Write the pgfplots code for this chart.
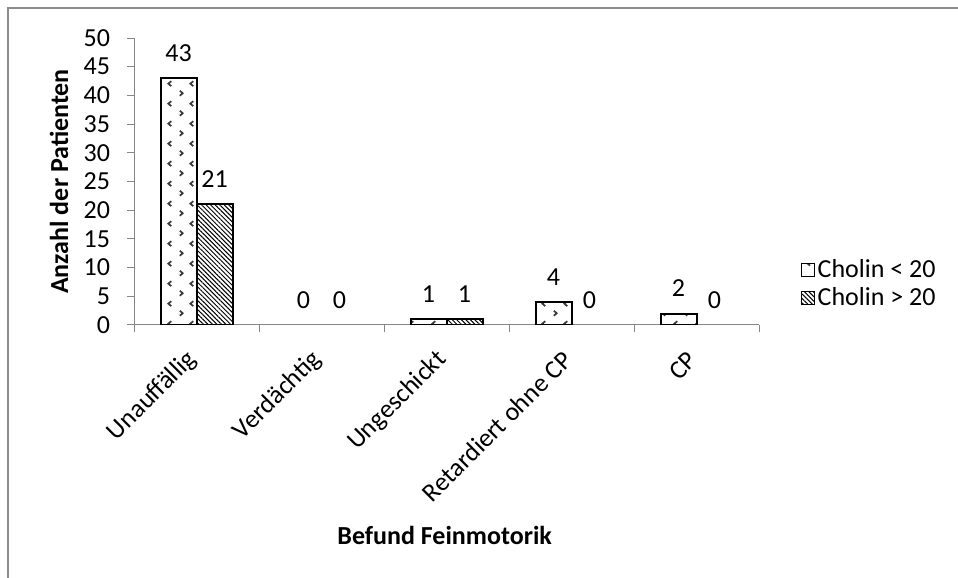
\documentclass[border=0pt]{standalone}
\usepackage{fontspec}
\setmainfont{Carlito}
\usepackage{pgfplots}
\pgfplotsset{compat=1.18}
\usetikzlibrary{patterns.meta}
\definecolor{axgray}{HTML}{868686}
\definecolor{framegray}{HTML}{8C8C8C}
\definecolor{dotgray}{HTML}{3A3A3A}
\pgfdeclarepattern{
  name=chevrons,
  type=uncolored,
  bottom left={\pgfpoint{0pt}{0pt}},
  top right={\pgfpoint{11pt}{10pt}},
  tile size={\pgfpoint{11pt}{10pt}},
  code={
    \pgfsetlinewidth{0.9pt}
    \pgfpathmoveto{\pgfpoint{2.0pt}{3.8pt}}
    \pgfpathlineto{\pgfpoint{3.5pt}{2.5pt}}
    \pgfpathlineto{\pgfpoint{2.0pt}{1.2pt}}
    \pgfpathmoveto{\pgfpoint{9.0pt}{8.8pt}}
    \pgfpathlineto{\pgfpoint{7.5pt}{7.5pt}}
    \pgfpathlineto{\pgfpoint{9.0pt}{6.2pt}}
    \pgfusepath{stroke}
  }
}
\pgfplotsset{
  mylegend/.style={legend image code/.code={\draw[##1, line width=0.5pt] (0pt,-3.25pt) rectangle (6.5pt,3.25pt);}}
}
\begin{document}
\begin{tikzpicture}[font=\fontsize{13}{15.6}\selectfont]
\useasboundingbox (0,0) rectangle (479pt,289pt);
\draw[framegray, line width=0.6pt] (4pt,0) -- (4pt,285pt) -- (479pt,285pt);
\begin{axis}[
  at={(67pt,126.5pt)}, anchor=south west,
  scale only axis, width=312.5pt, height=143.5pt,
  xmin=-0.5, xmax=4.5, ymin=0, ymax=50,
  ybar,
  ytick={0,5,...,50},
  axis x line*=bottom, axis y line*=left,
  axis line style={axgray, line width=0.5pt},
  tick style={axgray, line width=0.5pt},
  tick align=outside, major tick length=3.5pt,
  xtick={-0.5,0.5,1.5,2.5,3.5,4.5}, xticklabels={,,,,,},
  extra x ticks={0,1,2,3,4},
  extra x tick labels={Unauffällig,Verdächtig,Ungeschickt,Retardiert ohne CP,CP},
  extra x tick style={major tick length=0pt, xticklabel style={xshift=0.5pt, yshift=-13pt, rotate=45, anchor=east}},
  yticklabel style={xshift=-5pt},
  /pgf/number format/assume math mode=true,
  ticklabel style={font=\fontsize{13}{15.6}\selectfont, text=black},
  ylabel={\bfseries Anzahl der Patienten},
  ylabel style={at={(axis description cs:-0.12,0.5)}, anchor=center, font=\fontsize{13}{15.6}\selectfont},
  xlabel={\bfseries Befund Feinmotorik},
  xlabel style={at={(axis description cs:0.497,-0.732)}, anchor=center, font=\fontsize{13}{15.6}\selectfont},
  every node near coord/.append style={anchor=center, yshift=12.5pt, font=\fontsize{13}{15.6}\selectfont, text=black},
  legend style={at={(axis description cs:1.066,0.143)}, anchor=west, draw=none, fill=none,
    inner sep=0pt, row sep=0.7pt, nodes={inner sep=1.5pt, anchor=west},
    font=\fontsize{13}{15.6}\selectfont},
  legend cell align=left,
]
% visible bars (non-zero values only)
\addplot[draw=black, line width=1pt, bar width=18pt, bar shift=-9pt,
  pattern=chevrons, pattern color=dotgray, mylegend]
  coordinates {(0,43) (2,1) (3,4) (4,2)};
\addlegendentry{Cholin < 20}
\addplot[draw=black, line width=1pt, bar width=18pt, bar shift=9pt,
  pattern={Lines[angle=-45, distance=1.6pt, line width=0.5pt]}, pattern color=black, mylegend]
  coordinates {(0,21) (2,1)};
\addlegendentry{Cholin > 20}
% value labels
\addplot[draw=none, fill=none, bar width=18pt, bar shift=-9pt, nodes near coords, forget plot]
  coordinates {(0,43) (1,0) (2,1) (3,4) (4,2)};
\addplot[draw=none, fill=none, bar width=18pt, bar shift=9pt, nodes near coords, forget plot]
  coordinates {(0,21) (1,0) (2,1) (3,0) (4,0)};
\end{axis}
\end{tikzpicture}
\end{document}
